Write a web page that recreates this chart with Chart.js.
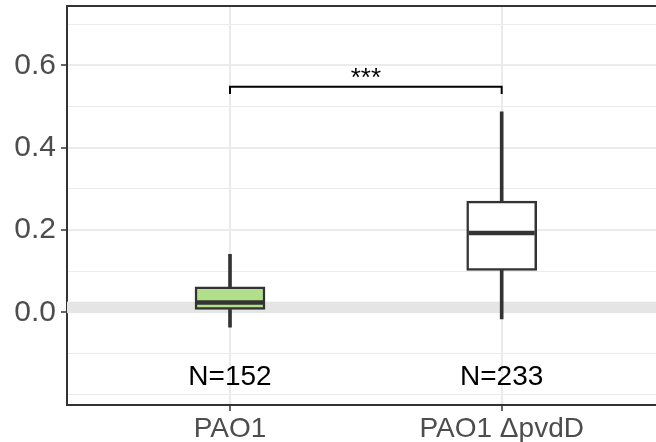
<!DOCTYPE html>
<html>
<head>
<meta charset="utf-8">
<script src="https://cdn.jsdelivr.net/npm/chart.js@4/dist/chart.umd.min.js"></script>
<style>
  html, body { margin: 0; padding: 0; background: #fff; overflow: hidden; }
</style>
</head>
<body>
<canvas id="chart" width="656" height="442"></canvas>
<script>
// box plot summary per strain
const categories = ['PAO1', 'PAO1 \u0394pvdD'];
const xPos = [1, 2];
const whiskerLow = [-0.036, -0.016];
const q1 = [0.007, 0.102];
const median = [0.024, 0.193];
const q3 = [0.062, 0.270];
const whiskerHigh = [0.141, 0.487];
const boxColors = ['#b2df8a', '#ffffff'];
const counts = ['N=152', 'N=233'];
const countY = -0.177;

// y axis breaks
const yTicks = [-0.2, -0.1, 0, 0.1, 0.2, 0.3, 0.4, 0.5, 0.6, 0.7];
const yLabelled = [0, 0.2, 0.4, 0.6];

// significance bracket
const bracketX = [1, 1, 2, 2];
const bracketY = [0.53, 0.548, 0.548, 0.53];
const sigText = '***';
const sigY = 0.549;

// grey reference band around zero
const bandY = [-0.002, 0.026];

const FONT = '"Liberation Sans", Helvetica, Arial, sans-serif';
const isMajor = v => yLabelled.some(t => Math.abs(t - v) < 1e-9);

const extras = {
    id: 'extras',
    beforeDatasetsDraw(chart) {
        const { ctx, chartArea, scales } = chart;
        const y0 = scales.y.getPixelForValue(bandY[1]);
        const y1 = scales.y.getPixelForValue(bandY[0]);
        ctx.save();
        ctx.fillStyle = '#e5e5e5';
        ctx.fillRect(chartArea.left, y0, chartArea.right - chartArea.left, y1 - y0);
        ctx.restore();
    },
    afterDatasetsDraw(chart) {
        const { ctx, chartArea, scales } = chart;
        ctx.save();
        ctx.fillStyle = '#000';
        ctx.textAlign = 'center';
        ctx.textBaseline = 'alphabetic';
        ctx.font = '28px ' + FONT;
        counts.forEach((txt, i) => {
            ctx.fillText(txt, scales.x.getPixelForValue(xPos[i]), scales.y.getPixelForValue(countY));
        });
        ctx.font = '26px ' + FONT;
        const midX = (scales.x.getPixelForValue(bracketX[0]) + scales.x.getPixelForValue(bracketX[3])) / 2;
        ctx.fillText(sigText, midX, scales.y.getPixelForValue(sigY));
        // top panel border
        ctx.strokeStyle = '#333';
        ctx.lineWidth = 2;
        ctx.beginPath();
        ctx.moveTo(chartArea.left, chartArea.top);
        ctx.lineTo(chartArea.right, chartArea.top);
        ctx.stroke();
        ctx.restore();
    }
};

new Chart(document.getElementById('chart'), {
    type: 'bar',
    data: {
        datasets: [
            {
                type: 'scatter',
                label: 'median',
                data: xPos.map((x, i) => ({ x, y: median[i] })),
                pointStyle: 'line',
                pointRadius: 33,
                borderColor: '#333333',
                borderWidth: 4.5
            },
            {
                label: 'box',
                data: xPos.map((x, i) => ({ x, y: [q1[i], q3[i]] })),
                backgroundColor: boxColors,
                borderColor: '#333333',
                borderWidth: 2.5,
                borderSkipped: false,
                barThickness: 70,
                grouped: false
            },
            {
                label: 'upper whisker',
                data: xPos.map((x, i) => ({ x, y: [q3[i], whiskerHigh[i]] })),
                backgroundColor: '#333333',
                borderWidth: 0,
                barThickness: 3,
                grouped: false
            },
            {
                label: 'lower whisker',
                data: xPos.map((x, i) => ({ x, y: [whiskerLow[i], q1[i]] })),
                backgroundColor: '#333333',
                borderWidth: 0,
                barThickness: 3,
                grouped: false
            },
            {
                type: 'line',
                label: 'bracket',
                data: bracketX.map((x, i) => ({ x, y: bracketY[i] })),
                borderColor: '#000000',
                borderWidth: 2,
                pointRadius: 0,
                fill: false,
                tension: 0
            }
        ]
    },
    options: {
        responsive: false,
        animation: false,
        events: [],
        layout: { autoPadding: false, padding: { top: 6, right: 0, left: 0, bottom: 0 } },
        plugins: { legend: { display: false }, tooltip: { enabled: false } },
        scales: {
            x: {
                type: 'linear',
                min: 0.4,
                max: 2.568,
                offset: false,
                afterBuildTicks: s => { s.ticks = xPos.map(v => ({ value: v })); },
                afterFit: s => { s.height = 37; s.paddingLeft = 0; s.paddingRight = 0; },
                grid: { offset: false, color: '#ebebeb', lineWidth: 2, tickLength: 6, tickColor: '#333', tickWidth: 1.5 },
                border: { color: '#333', width: 2 },
                ticks: {
                    color: '#4d4d4d',
                    font: { family: FONT, size: 28 },
                    padding: 1,
                    maxRotation: 0,
                    autoSkip: false,
                    callback: v => categories[xPos.indexOf(v)]
                }
            },
            y: {
                type: 'linear',
                min: -0.225,
                max: 0.744,
                afterBuildTicks: s => { s.ticks = yTicks.map(v => ({ value: v })); },
                afterFit: s => { s.width = 67; s.paddingTop = 0; s.paddingBottom = 0; },
                grid: {
                    color: '#ebebeb',
                    lineWidth: c => isMajor(c.tick.value) ? 2 : 1,
                    tickLength: 6,
                    tickColor: c => isMajor(c.tick.value) ? '#333' : 'rgba(0,0,0,0)',
                    tickWidth: 1.5
                },
                border: { color: '#333', width: 2 },
                ticks: {
                    color: '#4d4d4d',
                    font: { family: FONT, size: 30 },
                    padding: 5,
                    autoSkip: false,
                    callback: v => isMajor(v) ? v.toFixed(1) : ''
                }
            }
        }
    },
    plugins: [extras]
});
</script>
</body>
</html>
